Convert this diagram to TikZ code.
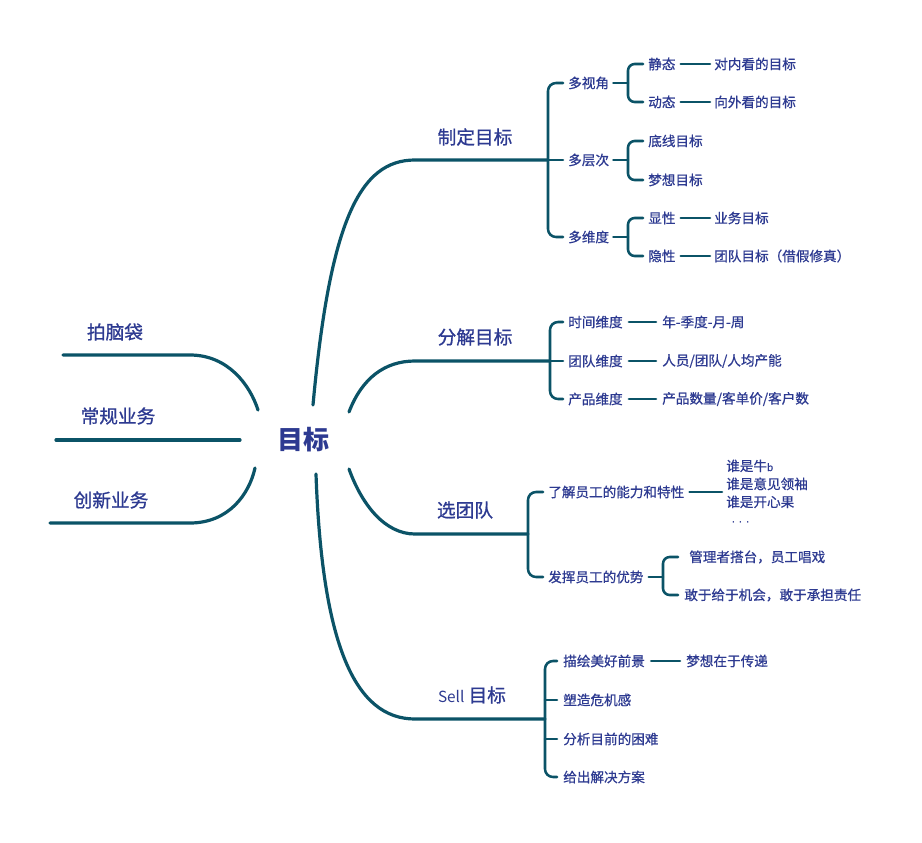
\documentclass[tikz,border=0pt]{standalone}
\usepackage{fontspec}
\setmainfont{Noto Sans CJK SC}
\newfontfamily\cjksm{Noto Sans CJK SC}[FakeBold=0.7]
\newfontfamily\cjkbig{Noto Sans CJK SC}[FakeBold=0.9]
\newfontfamily\dotfont{DejaVu Sans}
\usetikzlibrary{calc}
\definecolor{lc}{HTML}{0B5367}
\definecolor{tc}{HTML}{2D3A91}
\tikzset{
  branch/.style={draw=lc, line width=2.4pt, line cap=round},
  twig/.style={draw=lc, line width=1.9pt, line cap=round},
  sm/.style={text=tc, inner sep=0pt, anchor=west, font=\cjksm\fontsize{10.2}{13.5}\selectfont},
  big/.style={text=tc, inner sep=0pt, anchor=center, font=\cjkbig\fontsize{14}{16}\selectfont},
  rootlbl/.style={text=tc, inner sep=0pt, anchor=center, font=\fontsize{19.5}{22}\selectfont\bfseries},
}
\begin{document}
\begin{tikzpicture}[x=0.75pt,y=-0.75pt]
\useasboundingbox[fill=white] (0,0) rectangle (922,843);

% ---------- root ----------
\node[rootlbl] (root) at (303,440) {目标};

% ---------- left branches ----------
\node[big] (pnd) at (115,332) {拍脑袋};
\node[big] (cg)  at (118,416) {常规业务};
\node[big] (cx)  at (111,500) {创新业务};
\coordinate (pndA) at (63,355);  \coordinate (pndB) at (190,355); \coordinate (pndC) at (258,410);
\coordinate (cgA) at (56,440);   \coordinate (cgB) at (240,440);
\coordinate (cxA) at (50,523);   \coordinate (cxB) at (190,523);  \coordinate (cxC) at (255,468);
\draw[branch] (pndA) -- (pndB) .. controls (228,355) and (250,385) .. (pndC);
\draw[branch] (cgA) -- (cgB);
\draw[branch] (cxA) -- (cxB) .. controls (228,523) and (249,495) .. (cxC);

% ---------- right main branches ----------
\node[big] (zd)   at (475,137) {制定目标};
\node[big] (fj)   at (475,337) {分解目标};
\node[big] (xtd)  at (465,510) {选团队};
\node[big] (sell) at (472,695) {{\fontspec{Noto Sans CJK SC}\fontsize{11.5}{14}\selectfont Sell}\ 目标};

\coordinate (r1) at (313,405); \coordinate (h1) at (415,160); \coordinate (s1) at (548,160);
\coordinate (r2) at (349,412); \coordinate (h2) at (415,361); \coordinate (s2) at (550,361);
\coordinate (r3) at (349,469); \coordinate (h3) at (415,534); \coordinate (s3) at (528,534);
\coordinate (r4) at (316,474); \coordinate (h4) at (415,719); \coordinate (s4) at (545,719);
\draw[branch] (r1) .. controls (330,220) and (360,160) .. (h1) -- (s1);
\draw[branch] (r2) .. controls (362,378) and (385,361) .. (h2) -- (s2);
\draw[branch] (r3) .. controls (362,505) and (385,534) .. (h3) -- (s3);
\draw[branch] (r4) .. controls (322,645) and (355,719) .. (h4) -- (s4);

% ---------- 制定目标 ----------
\node[sm] (dsj) at (568,83)  {多视角};
\node[sm] (dcc) at (568,160) {多层次};
\node[sm] (dwd) at (568,237) {多维度};
\draw[twig, rounded corners=6] ($(dsj.west)+(-5,0)$) -| (s1) |- ($(dwd.west)+(-5,0)$);
\draw[twig] (s1) -- ($(dcc.west)+(-5,0)$);

\node[sm] (jt)  at (648,64)  {静态};
\node[sm] (dt)  at (648,102) {动态};
\node[sm] (dnk) at (714,64)  {对内看的目标};
\node[sm] (xwk) at (714,102) {向外看的目标};
\coordinate (k1) at (628,83);
\draw[twig] ($(dsj.east)+(4,0)$) -- (k1);
\draw[twig, rounded corners=5] ($(jt.west)+(-5,0)$) -| (k1) |- ($(dt.west)+(-5,0)$);
\draw[twig] ($(jt.east)+(5,0)$) -- ($(dnk.west)+(-4,0)$);
\draw[twig] ($(dt.east)+(5,0)$) -- ($(xwk.west)+(-4,0)$);

\node[sm] (dx) at (648,141) {底线目标};
\node[sm] (mx) at (648,180) {梦想目标};
\coordinate (k2) at (628,160);
\draw[twig] ($(dcc.east)+(4,0)$) -- (k2);
\draw[twig, rounded corners=5] ($(dx.west)+(-5,0)$) -| (k2) |- ($(mx.west)+(-5,0)$);

\node[sm] (xx) at (648,218) {显性};
\node[sm] (yx) at (648,256) {隐性};
\node[sm] (yw) at (714,218) {业务目标};
\node[sm] (td) at (714,256) {团队目标（借假修真）};
\coordinate (k3) at (628,237);
\draw[twig] ($(dwd.east)+(4,0)$) -- (k3);
\draw[twig, rounded corners=5] ($(xx.west)+(-5,0)$) -| (k3) |- ($(yx.west)+(-5,0)$);
\draw[twig] ($(xx.east)+(5,0)$) -- ($(yw.west)+(-4,0)$);
\draw[twig] ($(yx.east)+(5,0)$) -- ($(td.west)+(-4,0)$);

% ---------- 分解目标 ----------
\node[sm] (sj) at (568,322) {时间维度};
\node[sm] (tw) at (568,361) {团队维度};
\node[sm] (cp) at (568,399) {产品维度};
\draw[twig, rounded corners=6] ($(sj.west)+(-5,0)$) -| (s2) |- ($(cp.west)+(-5,0)$);
\draw[twig] (s2) -- ($(tw.west)+(-5,0)$);
\node[sm] (njd) at (662,322) {年-季度-月-周};
\node[sm] (ry)  at (662,361) {人员/团队/人均产能};
\node[sm] (cs)  at (662,399) {产品数量/客单价/客户数};
\draw[twig] ($(sj.east)+(6,0)$) -- ($(njd.west)+(-6,0)$);
\draw[twig] ($(tw.east)+(6,0)$) -- ($(ry.west)+(-6,0)$);
\draw[twig] ($(cp.east)+(6,0)$) -- ($(cs.west)+(-6,0)$);

% ---------- 选团队 ----------
\node[sm] (lj) at (548,492) {了解员工的能力和特性};
\node[sm] (fh) at (548,577) {发挥员工的优势};
\draw[twig, rounded corners=6] ($(lj.west)+(-5,0)$) -| (s3) |- ($(fh.west)+(-5,0)$);
\node[sm, align=left] (shui) at (726,493) {谁是牛{\fontsize{7.5}{9}\selectfont b}\\谁是意见领袖\\谁是开心果\\[1pt]\hspace{4pt}{\dotfont\fontsize{9}{10}\selectfont·\hspace{2.5pt}·\hspace{2.5pt}·}};
\draw[twig] ($(lj.east)+(5,0)$) -- ($(shui.west)+(-4,-1)$);

\node[sm] (gl) at (689,557) {管理者搭台，员工唱戏};
\node[sm] (gy) at (684,595) {敢于给于机会，敢于承担责任};
\coordinate (k4) at (663,577);
\draw[twig] ($(fh.east)+(5,0)$) -- (k4);
\draw[twig, rounded corners=5] ($(gl.west)+(-11,0)$) -| (k4) |- ($(gy.west)+(-6,0)$);

% ---------- Sell 目标 ----------
\node[sm] (mh) at (563,661) {描绘美好前景};
\node[sm] (sz) at (563,700) {塑造危机感};
\node[sm] (fx) at (563,739) {分析目前的困难};
\node[sm] (gc) at (563,777) {给出解决方案};
\draw[twig, rounded corners=6] ($(mh.west)+(-6,0)$) -| (s4) |- ($(gc.west)+(-6,0)$);
\draw[twig] (s4 |- sz.west) -- ($(sz.west)+(-6,0)$);
\draw[twig] (s4 |- fx.west) -- ($(fx.west)+(-6,0)$);
\node[sm] (mxz) at (686,661) {梦想在于传递};
\draw[twig] ($(mh.east)+(6,0)$) -- ($(mxz.west)+(-6,0)$);
\end{tikzpicture}
\end{document}
